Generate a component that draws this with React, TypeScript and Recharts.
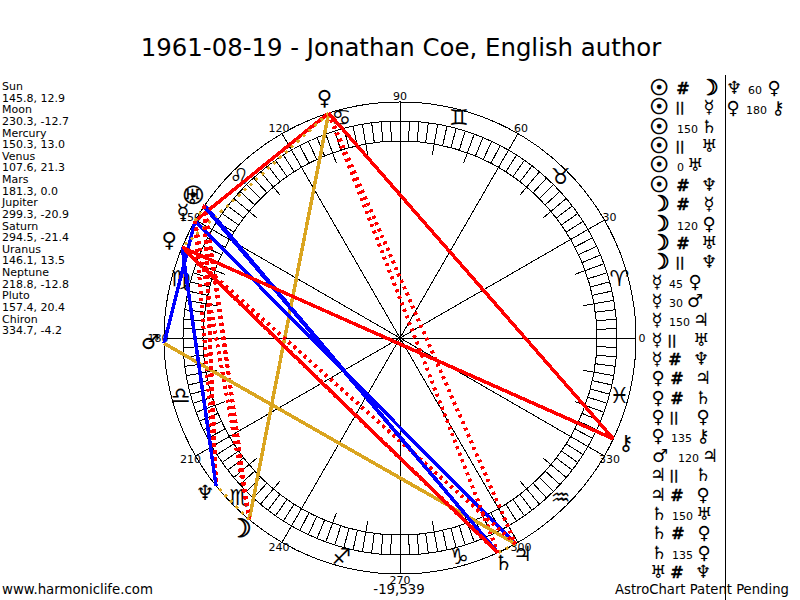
import {
  ReferenceDot,
  ReferenceLine,
  Scatter,
  ScatterChart,
  XAxis,
  YAxis,
} from 'recharts';

const FONT = '"DejaVu Sans", sans-serif';
const TITLE = '1961-08-19 - Jonathan Coe, English author';

const bodies = ['Sun', 'Moon', 'Mercury', 'Venus', 'Mars', 'Jupiter', 'Saturn', 'Uranus', 'Neptune', 'Pluto', 'Chiron'];
const longitudes = [145.8, 230.3, 150.3, 107.6, 181.3, 299.3, 294.5, 146.1, 218.8, 157.4, 334.7];
const latitudes = ['12.9', '-12.7', '13.0', '21.3', '0.0', '-20.9', '-21.4', '13.5', '-12.8', '20.4', '-4.2'];
const glyphs = ['☉', '☽', '☿', '♀', '♂', '♃', '♄', '♅', '♆', '♀', '⚷'];

const signs = ['♈', '♉', '♊', '♋', '♌', '♍', '♎', '♏', '♐', '♑', '♒', '♓'];
const signDegrees = [15, 45, 75, 105, 135, 165, 195, 225, 255, 285, 315, 345];
const spokeDegrees = [0, 30, 60, 90, 120, 150, 180, 210, 240, 270, 300, 330];

// from, aspect, to - same order as the list on the right
const aspects = [
  ['Sun', '#', 'Moon'],
  ['Sun', '||', 'Mercury'],
  ['Sun', '150', 'Saturn'],
  ['Sun', '||', 'Uranus'],
  ['Sun', '0', 'Uranus'],
  ['Sun', '#', 'Neptune'],
  ['Moon', '#', 'Mercury'],
  ['Moon', '120', 'Venus'],
  ['Moon', '#', 'Uranus'],
  ['Moon', '||', 'Neptune'],
  ['Mercury', '45', 'Venus'],
  ['Mercury', '30', 'Mars'],
  ['Mercury', '150', 'Jupiter'],
  ['Mercury', '||', 'Uranus'],
  ['Mercury', '#', 'Neptune'],
  ['Venus', '#', 'Jupiter'],
  ['Venus', '#', 'Saturn'],
  ['Venus', '||', 'Pluto'],
  ['Venus', '135', 'Chiron'],
  ['Mars', '120', 'Jupiter'],
  ['Jupiter', '||', 'Saturn'],
  ['Jupiter', '#', 'Pluto'],
  ['Saturn', '150', 'Uranus'],
  ['Saturn', '#', 'Pluto'],
  ['Saturn', '135', 'Pluto'],
  ['Uranus', '#', 'Neptune'],
  ['Neptune', '60', 'Pluto'],
  ['Pluto', '180', 'Chiron'],
];

const R_OUTER = 236;
const R_RING_OUT = 217;
const R_RING_IN = 197;

const polar = (deg: number, r: number) => ({
  x: r * Math.cos((deg * Math.PI) / 180),
  y: r * Math.sin((deg * Math.PI) / 180),
});

const lon = (name: string) => longitudes[bodies.indexOf(name)];

const aspectStyle = (kind: string) => {
  if (kind === '#') return { stroke: '#ff0000', strokeWidth: 4, strokeDasharray: '3 4' };
  if (kind === '||') return { stroke: '#daa520', strokeWidth: 3, strokeDasharray: '3 5' };
  if (kind === '120') return { stroke: '#daa520', strokeWidth: 3.5 };
  if (kind === '30' || kind === '60' || kind === '150') return { stroke: '#0000ff', strokeWidth: 3.5 };
  return { stroke: '#ff0000', strokeWidth: 3.5 };
};

const noDot = () => <g />;

// the sun and moon glyphs are small in DejaVu, the chart draws them heavier
const glyphScale = (g: string) => (g === '☉' ? 1.2 : g === '☽' ? 1.2 : 1);
const glyphStroke = (g: string) => (g === '☉' ? 0.7 : g === '☽' ? 0.8 : 0);

const textShape = (size: number, lift: number = 0) => (props: any) => {
  const label = props.payload.label;
  return (
    <text
      x={props.cx}
      y={props.cy - lift}
      textAnchor='middle'
      dominantBaseline='central'
      fontFamily={FONT}
      fontSize={size * glyphScale(label)}
      fill='#000'
      stroke='#000'
      strokeWidth={glyphStroke(label)}
    >
      {label}
    </text>
  );
};

const ringTicks: number[] = [];
for (let d = 0; d < 360; d += 2.5) ringTicks.push(d);
const longTicks = [10, 20, 40, 50, 70, 80, 100, 110, 130, 140, 160, 170, 190, 200, 220, 230, 250, 260, 280, 290, 310, 320, 340, 350];

const degreeLabels = spokeDegrees.map((d) => ({ ...polar(d, 242), label: String(d) }));
const signLabels = signDegrees.map((d, i) => ({ ...polar(d, 227), label: signs[i] }));
const bodyLabels = bodies.map((_, i) => ({ ...polar(longitudes[i], 250), label: glyphs[i] }));

// left edge of the aspect column for each first body
const symbolLeft: Record<string, number> = {
  Sun: 677,
  Moon: 677,
  Mercury: 669,
  Venus: 671,
  Mars: 678,
  Jupiter: 671,
  Saturn: 672,
  Uranus: 671,
  Neptune: 748,
  Pluto: 746,
};
const firstX: Record<string, number> = {
  Sun: 659,
  Moon: 660,
  Mercury: 657,
  Venus: 658,
  Mars: 660,
  Jupiter: 658,
  Saturn: 659,
  Uranus: 658,
  Neptune: 734,
  Pluto: 733,
};

const glyphOf = (name: string) => glyphs[bodies.indexOf(name)];

const abs = (x: number, y: number, extra: any = {}) => ({
  position: 'absolute' as const,
  left: x,
  top: y,
  fontFamily: FONT,
  whiteSpace: 'pre' as const,
  color: '#000',
  ...extra,
});

function Centered({ x, y, size, bold, stroke, children }: any) {
  return (
    <div
      style={abs(x, y, {
        fontSize: size,
        fontWeight: bold ? 'bold' : 'normal',
        lineHeight: '20px',
        WebkitTextStroke: stroke ? `${stroke}px #000` : undefined,
        transform: 'translate(-50%, -50%)',
      })}
    >
      {children}
    </div>
  );
}

function Glyph({ x, y, name }: any) {
  const g = glyphOf(name);
  return (
    <Centered x={x} y={y} size={18 * glyphScale(g)} stroke={glyphStroke(g)}>
      {g}
    </Centered>
  );
}

function AspectRow({ row, index }: any) {
  const [from, kind, to] = row;
  const second = index >= 26;
  const y = 89 + (second ? index - 26 : index) * (second ? 20 : 19.36);
  const left = symbolLeft[from];
  const isSymbol = kind === '#' || kind === '||';
  const thirdGap = isSymbol ? 32 : kind.length === 3 ? 32 : kind.length === 2 ? 26 : 18;
  return (
    <>
      <Glyph x={firstX[from]} y={y - 1} name={from} />
      {isSymbol ? (
        <Centered x={left + (kind === '#' ? 6 : 3)} y={y} size={kind === '#' ? 16 : 12} bold stroke={0.3}>
          {kind}
        </Centered>
      ) : (
        <div style={abs(left, y + 2, { fontSize: 11, lineHeight: '14px', transform: 'translateY(-50%)' })}>{kind}</div>
      )}
      <Glyph x={left + thirdGap} y={y - 1} name={to} />
    </>
  );
}

export default function App() {
  return (
    <div style={{ position: 'absolute', left: 0, top: 0, width: 800, height: 600, background: '#fff', overflow: 'hidden', shapeRendering: 'crispEdges' }}>
      <ScatterChart width={800} height={600} margin={{ top: 0, right: 0, bottom: 0, left: 0 }}>
        <XAxis dataKey='x' type='number' domain={[-400, 400]} hide />
        <YAxis dataKey='y' type='number' domain={[-262, 338]} hide />

        <ReferenceDot x={0} y={0} r={R_OUTER} fill='none' stroke='#000' />
        <ReferenceDot x={0} y={0} r={R_RING_OUT} fill='none' stroke='#000' />
        <ReferenceDot x={0} y={0} r={R_RING_IN} fill='none' stroke='#000' />

        {ringTicks.map((d) => (
          <ReferenceLine key={`t${d}`} segment={[polar(d, R_RING_IN), polar(d, R_RING_OUT)]} stroke='#000' />
        ))}
        {longTicks.map((d) => (
          <ReferenceLine key={`l${d}`} segment={[polar(d, 186), polar(d, R_RING_IN)]} stroke='#000' />
        ))}
        {spokeDegrees.map((d) => (
          <ReferenceLine key={`s${d}`} segment={[polar(d, 0), polar(d, R_OUTER)]} stroke='#000' />
        ))}

        <Scatter data={degreeLabels} shape={textShape(11)} isAnimationActive={false} />
        <Scatter data={signLabels} shape={textShape(22, 1)} isAnimationActive={false} />

        {aspects.map(([from, kind, to], i) => (
          <Scatter
            key={i}
            data={[polar(lon(from), R_OUTER), polar(lon(to), R_OUTER)]}
            line={aspectStyle(kind)}
            shape={noDot}
            isAnimationActive={false}
          />
        ))}

        <Scatter data={bodyLabels} shape={textShape(21, 2)} isAnimationActive={false} />
      </ScatterChart>

      <div style={abs(401, 48, { fontSize: 24.4, lineHeight: '30px', transform: 'translate(-50%, -50%)' })}>{TITLE}</div>

      <div style={abs(2, 81, { fontSize: 11, lineHeight: '11.62px' })}>
        {bodies.map((b, i) => (
          <div key={b}>
            <div>{b}</div>
            <div>{`${longitudes[i].toFixed(1)}, ${latitudes[i]}`}</div>
          </div>
        ))}
      </div>

      {aspects.map((row, i) => (
        <AspectRow key={i} row={row} index={i} />
      ))}
      <div style={abs(725, 75, { width: 1, height: 525, background: '#000' })} />

      <div style={abs(2, 582, { fontSize: 13.3, lineHeight: '16px' })}>www.harmoniclife.com</div>
      <div style={abs(399, 590, { fontSize: 13.3, lineHeight: '16px', transform: 'translate(-50%, -50%)' })}>-19,539</div>
      <div style={abs(615, 582, { fontSize: 13.2, lineHeight: '16px' })}>AstroChart Patent Pending</div>
    </div>
  );
}
